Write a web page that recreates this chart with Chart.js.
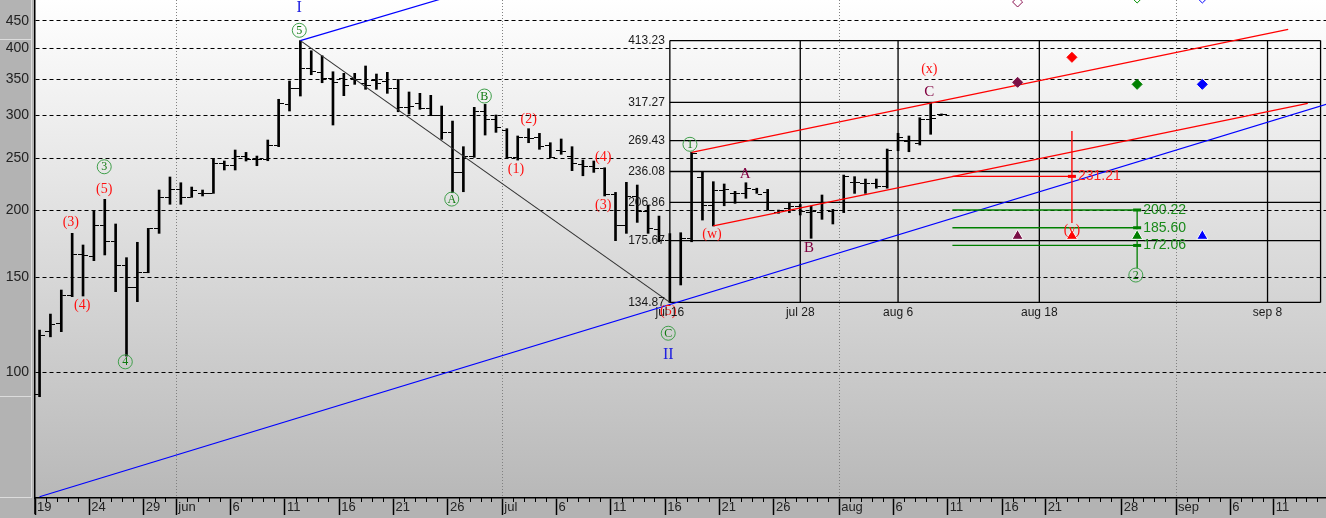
<!DOCTYPE html>
<html>
<head>
<meta charset="utf-8">
<script src="https://cdn.jsdelivr.net/npm/chart.js@4.4.1/dist/chart.umd.min.js"></script>
<style>
  html, body { margin: 0; padding: 0; background: #b3b3b3; }
  canvas { display: block; }
</style>
</head>
<body>
<canvas id="chart" width="1326" height="518" style="width:1326px;height:518px"></canvas>
<script>
// daily bars, day 0 = 19 May
const opens  = [91, 119, 123, 139, 165.5, 164.4, 187.5, 175.3, 158, 143.8, 153.1, 184.7, 211.4, 218.7, 211.4, 215, 215, 244.5, 242.7, 252.2,
                248.5, 248.4, 263.6, 314.9, 337, 366, 360.8, 352, 351.7, 351.7, 344.3, 348.2, 346.4, 337, 310.6, 316, 309, 300.6, 279.5, 235.5,
                251.5, 304.8, 295.5, 281.6, 250.8, 273, 273, 263.3, 257.8, 251.5, 243.4, 240.9, 239, 214.1, 187, 211.9, 198.8, 184.3, 176, 149.9,
                177.4, 230, 204.5, 218.1, 215, 215, 219, 216, 198, 201.6, 202.9, 198, 198, 199, 200.2, 225, 224.4, 224, 221.8, 270,
                268.8, 266.3, 295, 301.5];
const highs  = [119.8, 128.3, 142.2, 181.2, 172.4, 199.6, 209.6, 188.6, 163.3, 174.4, 185.1, 218.1, 230.6, 225, 220.9, 218.1, 249.7, 246.9, 258.8, 256.2,
                252.2, 270.1, 321.5, 347.6, 413.23, 395.7, 387.3, 361.7, 359.3, 359.3, 370.7, 358.2, 360.8, 350, 331.7, 329.8, 327, 312.4, 292.9, 262.5,
                310.6, 314.6, 300.6, 283.5, 274.8, 283.5, 277.9, 267, 271.3, 262.5, 247.9, 246.9, 239.9, 215.9, 225.4, 222.8, 204.5, 195.1, 181, 181.7,
                256.2, 235.8, 226, 223.8, 216.9, 225, 219.8, 218.7, 200.2, 206.6, 205, 203.6, 213.5, 200.8, 232.5, 230.9, 228.6, 228.6, 259.9, 278,
                274.8, 297.1, 316.8, 302];
const lows   = [90.1, 116.4, 119, 138.2, 138.6, 161.2, 165.2, 141.2, 107.2, 135.3, 153.1, 181.2, 205.2, 205.2, 211.4, 212.6, 215, 237.6, 237.6, 246.9,
                242, 247.2, 262.5, 305.8, 326, 357.1, 345.1, 288, 326.5, 342.7, 335.5, 335.5, 329.8, 304.8, 301.8, 308, 299.7, 270.9, 215.6, 216.5,
                250.8, 275.9, 279.1, 250.4, 247.9, 267, 259.6, 250.4, 254.1, 236.9, 231.8, 235.2, 212.6, 175.6, 181.2, 189.9, 181.2, 174.8, 134.87, 145.3,
                174.8, 191.8, 187, 203.9, 206, 210.5, 215, 200.2, 197.4, 198, 196, 177.4, 192.4, 188.6, 198, 215, 215, 219.8, 219.8, 258,
                256.9, 264.4, 276.8, 300.5];
const closes = [117, 122.9, 139.2, 165.2, 164.5, 187.5, 175.3, 158, 143.8, 153.1, 184.7, 211.4, 218.7, 211.4, 217.4, 215, 244.5, 242.7, 252.2, 248.8,
                248.5, 263.6, 316, 337, 366, 362, 352, 345, 341.7, 350, 341.7, 344.3, 337, 310.6, 312.4, 309.7, 300.6, 279.5, 235.5, 251.5,
                304.8, 295.5, 285.2, 250.8, 273, 272, 262.5, 250.8, 257.1, 244.5, 240.9, 239.1, 214.1, 187, 211.9, 198.8, 185.1, 176, 149.9, 177.4,
                255.3, 204.5, 218.1, 218.7, 215, 219.8, 214, 200.2, 199.4, 202.9, 199, 198.8, 206.6, 200.2, 230.9, 225, 224.4, 221.8, 258.8, 272.8,
                270.1, 295.1, 296.4, 301.5];

// axes
const yTicks = [100, 150, 200, 250, 300, 350, 400, 450];
const tickDays   = [0, 5, 10, 13, 18, 23, 28, 33, 38, 43, 48, 53, 58, 63, 68, 74, 79, 84, 89, 93, 100, 105, 110, 114];
const tickLabels = ['19', '24', '29', 'jun', '6', '11', '16', '21', '26', 'jul', '6', '11', '16', '21', '26', 'aug', '6', '11', '16', '21', '28', 'sep', '6', '11'];

// fibonacci box
const boxLevels = [413.23, 317.27, 269.43, 236.08, 206.86, 175.67, 134.87];
const boxDays   = [58, 70, 79, 92, 113];
const boxDayLabels = ['jul 16', 'jul 28', 'aug 6', 'aug 18', 'sep 8'];
const boxEndDay = 118.3;

// trend lines [day, value] pairs
const blueLow  = [[0, 58.74], [118.4, 314.6]];
const blueHigh = [[24, 413.23], [40, 515]];
const blackDown = [[24, 413.23], [58, 134.87]];
const redUpper = [[60, 256.2], [114.9, 433.6]];
const redLower = [[62, 187], [116.7, 316]];

// projection levels
const redLevel = 231.21;
const redLevelSpan = [84, 95];
const redStem = [280.7, 189.4];
const greenLevels = [200.22, 185.60, 172.06];
const greenLevelSpan = [84, 101];
const greenStemLow = 156.2;

// time markers
const markerDays = [90, 95, 101, 107];
const markerColors = ['#7a1046', '#ff0000', '#008000', '#0000ff'];
const diamondValues = [345.7, 384.7, 342.7, 342.7];
const triangleValue = 179.1;
const hollowDays = [90, 101, 107];
const hollowValues = [487.4, 495.8, 495.8];
const hollowColors = ['#8a1050', '#009000', '#0000ff'];

// wave labels [text, day, value]
const redWaves = [['(3)', 3.3, 189.6], ['(4)', 4.35, 133], ['(5)', 6.37, 219], ['(1)', 44.26, 238.3], ['(2)', 45.43, 295.5],
                  ['(4)', 52.29, 250.8], ['(3)', 52.29, 203.9], ['(5)', 58.27, 129.6], ['(w)', 62.3, 180.4], ['(x)', 82.3, 366], ['(y)', 95.42, 183.8]];
const circledWaves = [['3', 6.37, 240.9], ['4', 8.31, 104.6], ['5', 24.32, 431.8], ['A', 38.35, 209.8], ['B', 41.35, 326],
                      ['C', 58.27, 118.2], ['1', 60.27, 265.2], ['2', 101.3, 151.6]];
const letterWaves = [['A', 65.36, 233.5], ['B', 71.22, 170.4], ['C', 82.3, 331.2]];
const degreeWaves = [['I', 24.3, 474.9], ['II', 58.27, 107.7]];

const SHIFT = 0.42; // bar sits inside its day slot

function tickImage(left) {
  const c = document.createElement('canvas');
  c.width = 10; c.height = 1;
  const g = c.getContext('2d');
  g.fillStyle = '#000';
  g.fillRect(left ? 0 : 6, 0, 4, 1);
  return c;
}

function seg(points, color, width, order) {
  return {
    type: 'line', data: points.map(p => ({x: p[0], y: p[1]})),
    borderColor: color, borderWidth: width, pointRadius: 0, order: order
  };
}

const datasets = [];

boxLevels.forEach(v => datasets.push(seg([[boxDays[0] + SHIFT, v], [boxEndDay, v]], '#000', 1.3, 20)));
boxDays.forEach(d => datasets.push(seg([[d + SHIFT, boxLevels[0]], [d + SHIFT, boxLevels[boxLevels.length - 1]]], '#000', 1.3, 20)));
datasets.push(seg([[boxEndDay, boxLevels[0]], [boxEndDay, boxLevels[boxLevels.length - 1]]], '#000', 1.3, 20));

datasets.push({
  type: 'bar', label: 'range',
  data: highs.map((h, i) => ({x: i + SHIFT, y: [lows[i], h]})),
  backgroundColor: '#000', barThickness: 2, borderWidth: 0, order: 10
});
datasets.push({
  type: 'line', showLine: false, data: opens.map((o, i) => ({x: i + SHIFT, y: o})),
  pointStyle: tickImage(true), pointRadius: 3, order: 9
});
datasets.push({
  type: 'line', showLine: false, data: closes.map((c, i) => ({x: i + SHIFT, y: c})),
  pointStyle: tickImage(false), pointRadius: 3, order: 9
});

datasets.push(seg(blueLow.map(p => [p[0] + SHIFT, p[1]]), '#0000ff', 1.2, 5));
datasets.push(seg(blueHigh.map(p => [p[0] + SHIFT, p[1]]), '#0000ff', 1.2, 5));
datasets.push(seg(blackDown.map(p => [p[0] + SHIFT, p[1]]), '#333333', 1.1, 5));
datasets.push(seg(redUpper.map(p => [p[0] + SHIFT, p[1]]), '#ff0000', 1.3, 5));
datasets.push(seg(redLower.map(p => [p[0] + SHIFT, p[1]]), '#ff0000', 1.3, 5));

datasets.push(seg([[redLevelSpan[0] + SHIFT, redLevel], [redLevelSpan[1] + SHIFT, redLevel]], '#ff0000', 1.3, 4));
datasets.push(seg([[redLevelSpan[1] + SHIFT, redStem[0]], [redLevelSpan[1] + SHIFT, redStem[1]]], '#ff0000', 1.3, 4));
greenLevels.forEach(v => datasets.push(seg([[greenLevelSpan[0] + SHIFT, v], [greenLevelSpan[1] + SHIFT, v]], '#008000', 1.3, 4)));
datasets.push(seg([[greenLevelSpan[1] + SHIFT, greenLevels[0]], [greenLevelSpan[1] + SHIFT, greenStemLow]], '#008000', 1.3, 4));

datasets.push({
  type: 'line', showLine: false,
  data: [{x: redLevelSpan[1] + SHIFT, y: redLevel}].concat(greenLevels.map(v => ({x: greenLevelSpan[1] + SHIFT, y: v}))),
  pointStyle: 'line', pointRadius: 4, pointBorderWidth: 3,
  pointBorderColor: ['#ff0000', '#008000', '#008000', '#008000'], order: 3
});

datasets.push({
  type: 'line', showLine: false,
  data: markerDays.map((d, i) => ({x: d + SHIFT, y: diamondValues[i]})),
  pointStyle: 'rectRot', pointRadius: 5, pointBackgroundColor: markerColors, pointBorderColor: markerColors, order: 2
});
datasets.push({
  type: 'line', showLine: false, clip: false,
  data: hollowDays.map((d, i) => ({x: d + SHIFT, y: hollowValues[i]})),
  pointStyle: 'rectRot', pointRadius: 5, pointBorderWidth: 1,
  pointBackgroundColor: '#ffffff', pointBorderColor: hollowColors, order: 2
});
datasets.push({
  type: 'line', showLine: false,
  data: markerDays.map(d => ({x: d + SHIFT, y: triangleValue})),
  pointStyle: 'triangle', pointRadius: 6.5, pointBorderWidth: 1,
  pointBackgroundColor: markerColors, pointBorderColor: '#ffffff', order: 1
});

const backdrop = {
  id: 'backdrop',
  beforeDraw(chart) {
    const {ctx, chartArea: a, width, height} = chart;
    ctx.save();
    ctx.fillStyle = '#b3b3b3';
    ctx.fillRect(0, 0, width, height);
    const g = ctx.createLinearGradient(0, a.top, 0, a.bottom);
    g.addColorStop(0, '#ffffff');
    g.addColorStop(1, '#b8b8b8');
    ctx.fillStyle = g;
    ctx.fillRect(a.left, a.top, a.right - a.left, a.bottom - a.top);
    ctx.strokeStyle = '#dcdcdc';
    ctx.lineWidth = 1;
    ctx.beginPath();
    ctx.moveTo(31.5, 0); ctx.lineTo(31.5, a.bottom);
    ctx.moveTo(0, 39.5); ctx.lineTo(31, 39.5);
    ctx.moveTo(0, 396.5); ctx.lineTo(31, 396.5);
    ctx.moveTo(0, a.bottom - 0.5); ctx.lineTo(31, a.bottom - 0.5);
    ctx.stroke();
    ctx.restore();
  },
  afterDraw(chart) {
    const {ctx, chartArea: a} = chart;
    const xs = chart.scales.x;
    ctx.save();
    ctx.strokeStyle = '#000';
    ctx.lineWidth = 1;
    ctx.beginPath();
    for (let d = Math.ceil(xs.min); d <= xs.max; d++) {
      if (tickDays.includes(d)) continue;
      const px = Math.round(xs.getPixelForValue(d)) + 0.5;
      ctx.moveTo(px, a.bottom);
      ctx.lineTo(px, a.bottom + 4);
    }
    ctx.stroke();
    ctx.lineWidth = 1.5;
    ctx.beginPath();
    ctx.moveTo(a.left, a.bottom);
    ctx.lineTo(a.left, a.bottom + 16);
    ctx.stroke();
    ctx.restore();
  }
};

const waveText = {
  id: 'waveText',
  afterDatasetsDraw(chart) {
    const {ctx} = chart;
    const xs = chart.scales.x, ys = chart.scales.y;
    const px = d => xs.getPixelForValue(d);
    const py = v => ys.getPixelForValue(v);
    ctx.save();
    ctx.textAlign = 'center';
    ctx.textBaseline = 'middle';

    ctx.font = '14px "Liberation Serif"';
    ctx.fillStyle = '#ff1010';
    redWaves.forEach(w => ctx.fillText(w[0], px(w[1]), py(w[2])));

    circledWaves.forEach(w => {
      const x = px(w[1]), y = py(w[2]);
      ctx.beginPath();
      ctx.arc(x, y, 7, 0, Math.PI * 2);
      ctx.strokeStyle = '#3f9f4a';
      ctx.lineWidth = 1;
      ctx.stroke();
      ctx.font = '12px "Liberation Serif"';
      ctx.fillStyle = '#107a10';
      ctx.fillText(w[0], x, y + 0.5);
    });

    ctx.font = '15px "Liberation Serif"';
    ctx.fillStyle = '#800040';
    letterWaves.forEach(w => ctx.fillText(w[0], px(w[1]), py(w[2])));

    ctx.font = '16px "Liberation Serif"';
    ctx.fillStyle = '#2020e0';
    degreeWaves.forEach(w => ctx.fillText(w[0], px(w[1]), py(w[2])));

    // fibonacci box labels
    ctx.font = '12px "Liberation Sans"';
    ctx.fillStyle = '#1a1a1a';
    ctx.textAlign = 'right';
    boxLevels.forEach(v => ctx.fillText(v.toFixed(2), px(boxDays[0] + SHIFT) - 5, py(v)));
    ctx.textAlign = 'center';
    ctx.textBaseline = 'top';
    const bottom = py(boxLevels[boxLevels.length - 1]);
    boxDays.forEach((d, i) => ctx.fillText(boxDayLabels[i], px(d + SHIFT), bottom + 4));

    // projection values
    ctx.textAlign = 'left';
    ctx.textBaseline = 'middle';
    ctx.font = '14px "Liberation Sans"';
    ctx.fillStyle = '#ff2020';
    ctx.fillText(redLevel.toFixed(2), px(redLevelSpan[1] + SHIFT) + 6, py(redLevel));
    ctx.fillStyle = '#1a8a1a';
    greenLevels.forEach(v => ctx.fillText(v.toFixed(2), px(greenLevelSpan[1] + SHIFT) + 6, py(v)));
    ctx.restore();
  }
};

const isMonth = i => isNaN(Number(tickLabels[i]));
const noPad = s => { s.paddingTop = 0; s.paddingBottom = 0; s.paddingLeft = 0; s.paddingRight = 0; };

new Chart(document.getElementById('chart'), {
  type: 'bar',
  data: { datasets: datasets },
  options: {
    responsive: false,
    animation: false,
    events: [],
    layout: { padding: 0, autoPadding: false },
    plugins: { legend: { display: false }, tooltip: { enabled: false } },
    scales: {
      x: {
        type: 'linear', min: 0, max: 118.8, offset: false,
        afterBuildTicks: s => { s.ticks = tickDays.map(v => ({value: v})); },
        afterFit: s => { s.height = 20; noPad(s); },
        ticks: {
          autoSkip: false, maxRotation: 0, minRotation: 0, align: 'start', labelOffset: 2, padding: -15,
          color: '#222', font: { family: 'Liberation Sans', size: 13 },
          callback: (v, i) => tickLabels[i]
        },
        grid: {
          offset: false, drawOnChartArea: true, lineWidth: 1,
          color: c => (c.index !== undefined && isMonth(c.index)) ? '#808080' : 'rgba(0,0,0,0)',
          tickColor: '#000', tickLength: 17, tickWidth: 1.5
        },
        border: { display: true, color: '#000', width: 1.5, dash: [1, 2] }
      },
      y: {
        type: 'logarithmic', position: 'left', min: 58.42, max: 491.6,
        afterBuildTicks: s => { s.ticks = yTicks.map(v => ({value: v})); },
        afterFit: s => { s.width = 35; noPad(s); },
        ticks: { color: '#222', padding: 6, font: { family: 'Liberation Sans', size: 14 }, callback: v => String(v) },
        grid: { color: '#000', lineWidth: 1, drawTicks: false },
        border: { display: true, color: '#000', width: 1.5, dash: [4, 3] }
      }
    }
  },
  plugins: [backdrop, waveText]
});
</script>
</body>
</html>
